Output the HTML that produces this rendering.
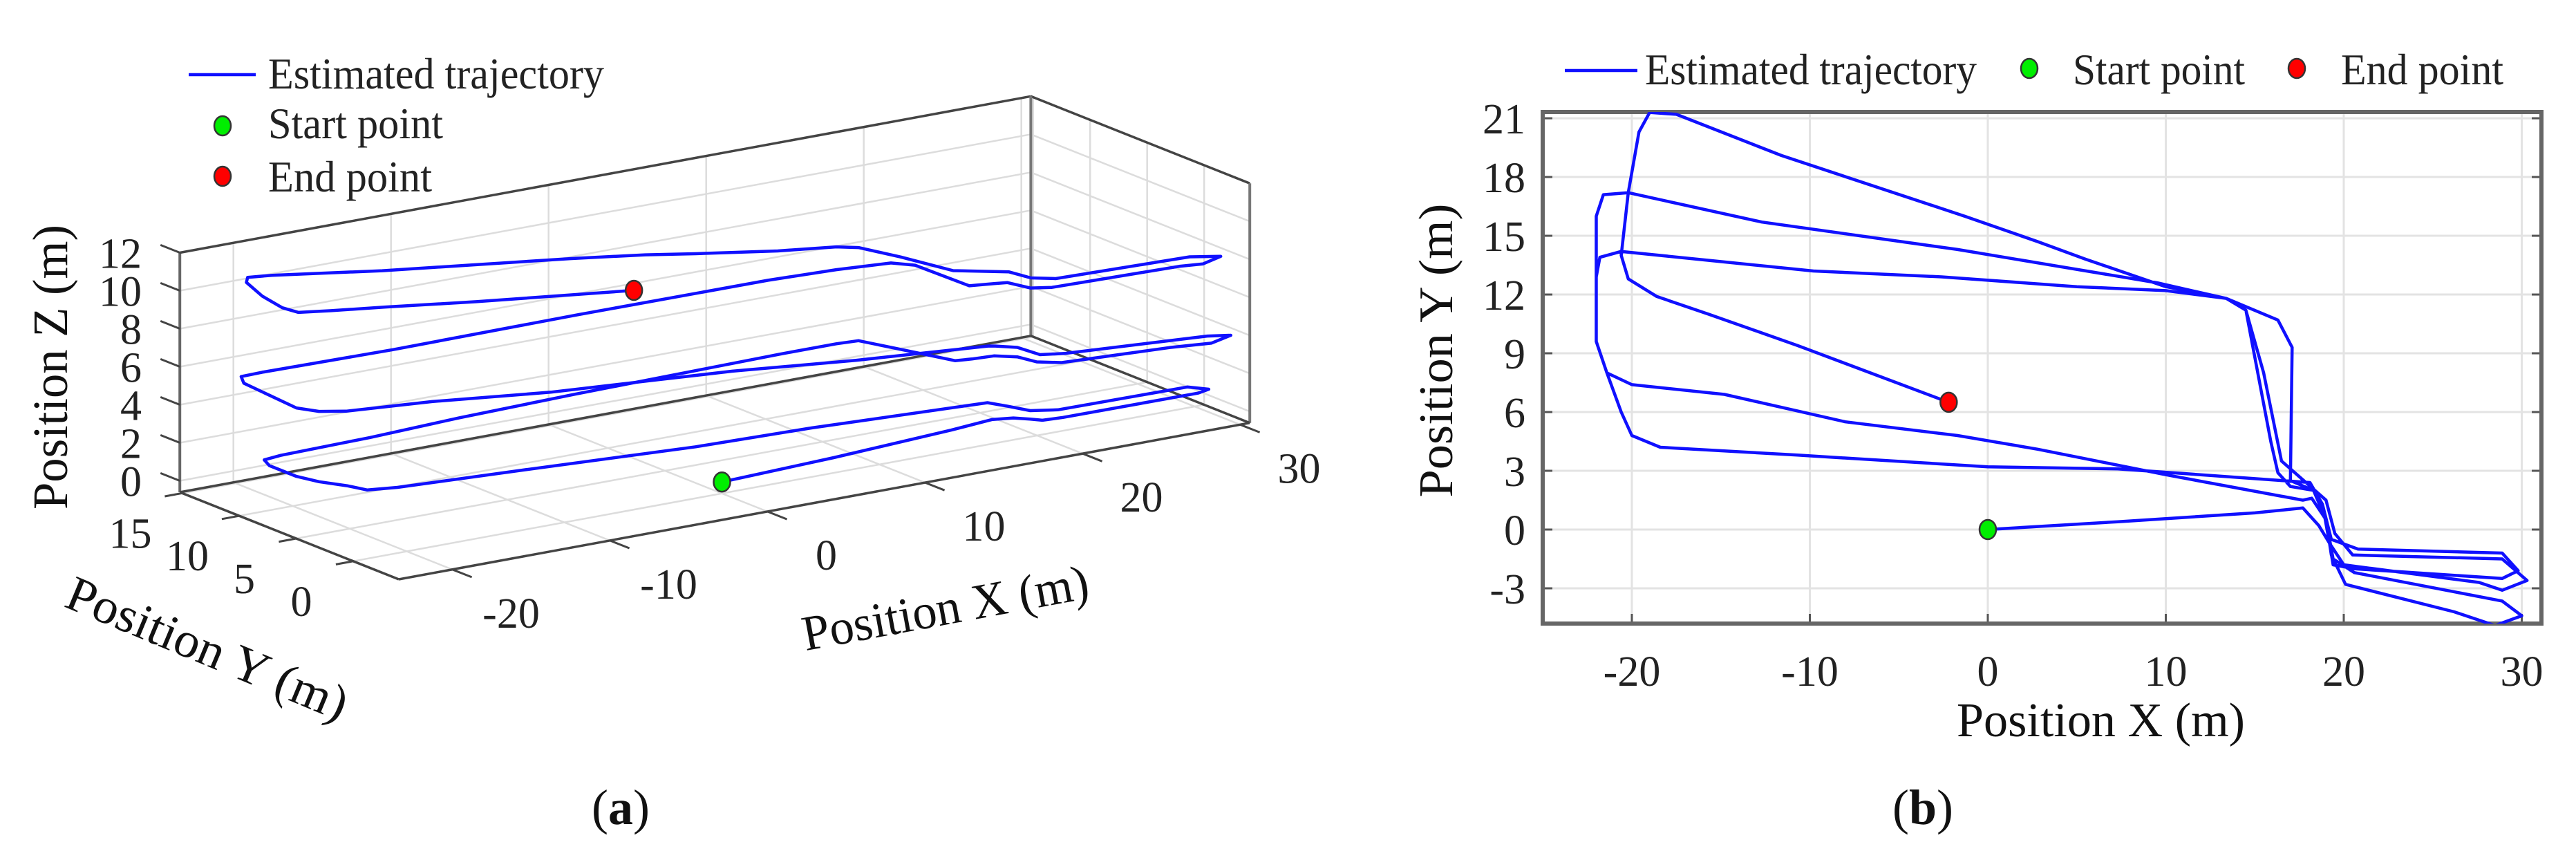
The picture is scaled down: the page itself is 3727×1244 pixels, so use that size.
<!DOCTYPE html>
<html><head><meta charset="utf-8"><style>
html,body{margin:0;padding:0;background:#fff;}
svg{display:block;font-family:"Liberation Serif","Times New Roman",serif;}
</style></head><body>
<svg id="fig" width="3727" height="1244" viewBox="0 0 3727 1244" xmlns="http://www.w3.org/2000/svg">
<defs><clipPath id="clipb"><rect x="2232" y="162" width="1445" height="740"/></clipPath></defs>
<g id="pa"></g>
<g id="pb"></g>
</svg>
<script>
// ---- trajectory data (m) ----
const trajX = [0,7.3,15,17.7,18.6,19.2,19.4,20.6,28.9,29.8,28.9,20.8,19.3,18.8,18.1,
 7.3,0,-10.7,-18.4,-20,-20.6,-21.4,-22,-22,-21.8,-20.6,
 -15.2,-9.8,-2.6,5,10,13.4,14.5,15.9,16.3,17,18.3,19,19.3,20.1,26.2,28.5,30,28.9,20.6,19.4,19.0,18.2,17.7,
 10,2.8,-1.7,-8,-14.8,-20,-21.4,-22,-22,-22,-21.6,-20.2,
 -12.7,-1.7,9.5,13.4,16.3,17.1,17,18.3,18.8,19.2,20,27.6,28.9,30.3,28.9,20.5,19.5,19,16.5,15.5,14.5,13.4,
 10,5.5,2.8,-1.3,-11.6,-17.5,-19,
 -19.6,-20.2,-20.6,-20.2,-18.6,-15.7,-10.7,-2.2];
const trajY = [0,0.4,0.85,1.1,0.2,-0.7,-1.8,-2.0,-2.5,-2.1,-1.2,-1.0,-0.5,1.3,2.4,
 3.1,3.2,3.8,4.2,4.8,6,8,9.6,12.9,13.9,14.2,
 13.7,13.2,12.9,12.4,12.2,11.8,11.2,4.5,2.9,2.2,2.0,0.5,-1.3,-2.8,-4.2,-4.9,-4.4,-3.65,-2.2,-1.5,0.5,1.6,1.5,
 2.8,4.1,4.8,5.5,6.9,7.4,8.0,9.6,12.9,16,17.1,17.2,
 15.7,14.3,12.6,11.8,10.7,9.3,2.5,2.0,1.3,-0.7,-1.8,-2.7,-3.1,-2.6,-1.5,-1.3,-0.2,1.5,3.5,8,11.2,11.8,
 12.4,13.8,14.7,16,19.1,21.2,21.3,
 20.3,17.2,14,12.8,11.9,11,9.4,6.5];
const trajZ = [0,0.1,0.3,0.4,0.5,0.5,0.6,0.6,0.7,0.7,0.8,0.8,0.9,0.9,1.0,
 1.2,1.3,1.6,1.8,1.8,1.9,1.9,2.0,2.0,2.1,2.1,
 2.3,2.6,2.8,3.0,3.1,3.2,3.3,3.4,3.4,3.5,3.5,3.6,3.6,3.7,3.8,3.8,3.9,3.9,4.0,4.0,4.1,4.1,4.2,
 4.4,4.7,4.8,5.0,5.3,5.5,5.6,5.6,5.7,5.8,5.9,5.9,
 6.2,6.6,7.0,7.1,7.2,7.2,7.3,7.3,7.4,7.4,7.5,7.6,7.6,7.7,7.7,7.8,7.8,7.9,8.0,8.1,8.2,8.3,
 8.5,8.8,9.0,9.2,9.6,9.9,10.0,
 10.0,9.9,9.9,9.8,9.8,9.7,9.5,9.3];
const bXTicks = [-20,-10,0,10,20,30];
const bYTicks = [-3,0,3,6,9,12,15,18,21];
const aXTicks = [-20,-10,0,10,20,30];
const aYTicks = [0,5,10,15];
const aZTicks = [0,2,4,6,8,10,12];

const NS="http://www.w3.org/2000/svg";
function mk(parent,tag,attrs,text){const e=document.createElementNS(NS,tag);for(const k in attrs)e.setAttribute(k,attrs[k]);if(text!==undefined)e.textContent=text;parent.appendChild(e);return e;}
const pa=document.getElementById('pa'), pb=document.getElementById('pb');

// ---------- Panel B ----------
const bx=v=>2361+(v+20)*25.75;
const by=v=>766-v*28.33;
const B={l:2232,r:3677,t:162,b:902};
for(const t of bXTicks){
  const g=mk(pb,'line',{x1:bx(t),x2:bx(t),y1:B.t,y2:B.b,stroke:'#e3e3e3','stroke-width':3});
  
  
  const tk=mk(pb,'line',{x1:bx(t),x2:bx(t),y1:B.b,y2:B.b-14,stroke:'#555','stroke-width':3});
  
  
  const lb=mk(pb,'text',{x:bx(t),y:992,'text-anchor':'middle','font-size':62,fill:'#222'},String(t));
  
  
}
for(const t of bYTicks){
  const g=mk(pb,'line',{x1:B.l,x2:B.r,y1:by(t),y2:by(t),stroke:'#e3e3e3','stroke-width':3});
  
  
  const tk=mk(pb,'line',{x1:B.l,x2:B.l+14,y1:by(t),y2:by(t),stroke:'#555','stroke-width':3});
  
  
  const tk2=mk(pb,'line',{x1:B.r,x2:B.r-14,y1:by(t),y2:by(t),stroke:'#555','stroke-width':3});
  
  
  const lb=mk(pb,'text',{x:2207,y:by(t)+22,'text-anchor':'end','font-size':62,fill:'#222'},String(t));
  
  
}
const frame=mk(pb,'rect',{x:B.l,y:B.t,width:B.r-B.l,height:B.b-B.t,fill:'none',stroke:'#666','stroke-width':6});


let dB='';trajX.forEach((v,i)=>{dB+=(i?'L':'M')+bx(v).toFixed(1)+' '+by(trajY[i]).toFixed(1);});
const lineB=mk(pb,'path',{d:dB,fill:'none',stroke:'#1010ff','stroke-width':4.5,'stroke-linejoin':'round','clip-path':'url(#clipb)'});


const n=trajX.length-1;
const sB=mk(pb,'ellipse',{cx:bx(trajX[0]),cy:by(trajY[0]),rx:12,ry:14,fill:'#00ee00',stroke:'#333','stroke-width':2.5});


const eB=mk(pb,'ellipse',{cx:bx(trajX[n]),cy:by(trajY[n]),rx:12,ry:14,fill:'#ff0000',stroke:'#333','stroke-width':2.5});


// legend b
const lgb=mk(pb,'g',{});


mk(lgb,'line',{x1:2264,x2:2369,y1:102,y2:102,stroke:'#1010ff','stroke-width':4.5});
mk(lgb,'text',{x:2380,y:122,'font-size':64,textLength:480,lengthAdjust:'spacingAndGlyphs',fill:'#222'},'Estimated trajectory');
mk(lgb,'ellipse',{cx:2936,cy:99,rx:12,ry:14,fill:'#00ee00',stroke:'#333','stroke-width':2.5});
mk(lgb,'text',{x:2999,y:122,'font-size':64,textLength:249,lengthAdjust:'spacingAndGlyphs',fill:'#222'},'Start point');
mk(lgb,'ellipse',{cx:3323,cy:99,rx:12,ry:14,fill:'#ff0000',stroke:'#333','stroke-width':2.5});
mk(lgb,'text',{x:3387,y:122,'font-size':64,textLength:235,lengthAdjust:'spacingAndGlyphs',fill:'#222'},'End point');
const xtb=mk(pb,'text',{x:2831,y:1065,'font-size':70,textLength:417,lengthAdjust:'spacingAndGlyphs',fill:'#111'},'Position X (m)');


const ytb=mk(pb,'text',{x:0,y:0,'font-size':70,'text-anchor':'middle',textLength:425,lengthAdjust:'spacingAndGlyphs',fill:'#111',transform:'translate(2101,507) rotate(-90)'},'Position Y (m)');


const capb=mk(pb,'text',{x:2782,y:1192,'font-size':72,'text-anchor':'middle',fill:'#111'},'');


capb.innerHTML='(<tspan font-weight="bold">b</tspan>)';

// ---------- Panel A (3D projection) ----------
const xmin=-23.4,xmax=30.6,ymin=-4,ymax=15.2,zmin=-0.6,zmax=12;
const ex=[22.8,-4.19], ey=[-16.5,-6.56], ez=27.5, O=[577,838];
const yDepthScale=0.72; // 3D view depth compression of the y axis
function P(x,y,z){return [O[0]+(x-xmin)*ex[0]+(y-ymin)*ey[0], O[1]+(x-xmin)*ex[1]+(y-ymin)*ey[1]-(z-zmin)*ez];}
function PD(x,y,z){return P(x,y*yDepthScale,z);}
function seg(g,a,b,st,w,name){const l=mk(g,'line',{x1:a[0].toFixed(1),y1:a[1].toFixed(1),x2:b[0].toFixed(1),y2:b[1].toFixed(1),stroke:st,'stroke-width':w});
  
  
  return l;}
const grid='#dcdcdc';
for(const t of aXTicks){ if(t>=xmin&&t<=xmax){ seg(pa,P(t,ymax,zmin),P(t,ymax,zmax),grid,2.5,'back-wall-x-gridline'); seg(pa,P(t,ymin,zmin),P(t,ymax,zmin),grid,2.5,'floor-x-gridline'); } }
for(const t of aZTicks){ seg(pa,P(xmin,ymax,t),P(xmax,ymax,t),grid,2.5,'back-wall-z-gridline'); seg(pa,P(xmax,ymin,t),P(xmax,ymax,t),grid,2.5,'side-wall-z-gridline'); }
for(const t of aYTicks){ seg(pa,P(xmax,t,zmin),P(xmax,t,zmax),grid,2.5,'side-wall-y-gridline'); seg(pa,P(xmin,t,zmin),P(xmax,t,zmin),grid,2.5,'floor-y-gridline'); }
const edge='#444';
seg(pa,P(xmin,ymax,zmin),P(xmin,ymax,zmax),'#666',4,'z-axis-line');
seg(pa,P(xmin,ymax,zmax),P(xmax,ymax,zmax),edge,3.5,'box-back-top-edge');
seg(pa,P(xmax,ymax,zmax),P(xmax,ymin,zmax),edge,3.5,'box-side-top-edge');
seg(pa,P(xmax,ymax,zmin),P(xmax,ymax,zmax),'#777',4,'box-back-right-edge');
seg(pa,P(xmax,ymin,zmin),P(xmax,ymin,zmax),'#777',4,'box-front-right-edge');
seg(pa,P(xmin,ymax,zmin),P(xmax,ymax,zmin),edge,3.5,'box-back-floor-edge');
seg(pa,P(xmax,ymin,zmin),P(xmax,ymax,zmin),edge,3.5,'box-side-floor-edge');
seg(pa,P(xmin,ymin,zmin),P(xmin,ymax,zmin),edge,3.5,'y-axis-line');
seg(pa,P(xmin,ymin,zmin),P(xmax,ymin,zmin),edge,3.5,'x-axis-line');
for(const t of aZTicks){
  seg(pa,P(xmin,ymax,t),P(xmin,ymax+1.7,t),edge,3,'z-tick');
  const p=P(xmin,ymax,t);
  const lb=mk(pa,'text',{x:205,y:(p[1]+22).toFixed(1),'text-anchor':'end','font-size':62,fill:'#222'},String(t));
  
  
}
for(const t of aYTicks){
  seg(pa,P(xmin,t,zmin),P(xmin-1.1,t,zmin),edge,3,'y-tick');
  const p=P(xmin,t,zmin);
  const lb=mk(pa,'text',{x:(p[0]-75).toFixed(1),y:(p[1]+79).toFixed(1),'text-anchor':'middle','font-size':62,fill:'#222'},String(t));
  
  
}
for(const t of aXTicks){
  seg(pa,P(t,ymin,zmin),P(t,ymin-1.7,zmin),edge,3,'x-tick');
  const p=P(t,ymin,zmin);
  const lb=mk(pa,'text',{x:(p[0]+85).toFixed(1),y:(p[1]+84).toFixed(1),'text-anchor':'middle','font-size':62,fill:'#222'},String(t));
  
  
}
let dA='';trajX.forEach((v,i)=>{const p=PD(v,trajY[i],trajZ[i]);dA+=(i?'L':'M')+p[0].toFixed(1)+' '+p[1].toFixed(1);});
const lineA=mk(pa,'path',{d:dA,fill:'none',stroke:'#1010ff','stroke-width':4.5,'stroke-linejoin':'round'});


const ps=PD(trajX[0],trajY[0],trajZ[0]), pe=PD(trajX[n],trajY[n],trajZ[n]);
const sA=mk(pa,'ellipse',{cx:ps[0],cy:ps[1],rx:12,ry:14,fill:'#00ee00',stroke:'#333','stroke-width':2.5});


const eA=mk(pa,'ellipse',{cx:pe[0],cy:pe[1],rx:12,ry:14,fill:'#ff0000',stroke:'#333','stroke-width':2.5});


// legend a
const lga=mk(pa,'g',{});


mk(lga,'line',{x1:273,x2:370,y1:108,y2:108,stroke:'#1010ff','stroke-width':4.5});
mk(lga,'text',{x:388,y:128,'font-size':64,textLength:486,lengthAdjust:'spacingAndGlyphs',fill:'#222'},'Estimated trajectory');
mk(lga,'ellipse',{cx:322,cy:182,rx:12,ry:14,fill:'#00ee00',stroke:'#333','stroke-width':2.5});
mk(lga,'text',{x:388,y:200,'font-size':64,textLength:253,lengthAdjust:'spacingAndGlyphs',fill:'#222'},'Start point');
mk(lga,'ellipse',{cx:322,cy:255,rx:12,ry:14,fill:'#ff0000',stroke:'#333','stroke-width':2.5});
mk(lga,'text',{x:388,y:277,'font-size':64,textLength:237,lengthAdjust:'spacingAndGlyphs',fill:'#222'},'End point');
const zta=mk(pa,'text',{x:0,y:0,'font-size':72,'text-anchor':'middle',textLength:412,lengthAdjust:'spacingAndGlyphs',fill:'#111',transform:'translate(97,531) rotate(-90)'},'Position Z (m)');


const xta=mk(pa,'text',{x:0,y:0,'font-size':72,'text-anchor':'middle',textLength:420,lengthAdjust:'spacingAndGlyphs',fill:'#111',transform:'translate(1372,903) rotate(-10.5)'},'Position X (m)');


const yta=mk(pa,'text',{x:0,y:0,'font-size':72,'text-anchor':'middle',textLength:434,lengthAdjust:'spacingAndGlyphs',fill:'#111',transform:'translate(291,960) rotate(22.6)'},'Position Y (m)');


const capa=mk(pa,'text',{x:898,y:1192,'font-size':72,'text-anchor':'middle',fill:'#111'},'');


capa.innerHTML='(<tspan font-weight="bold">a</tspan>)';
</script>
</body></html>
